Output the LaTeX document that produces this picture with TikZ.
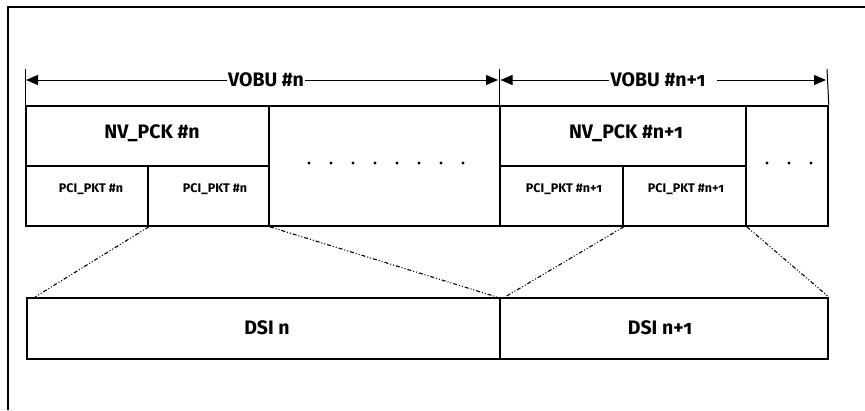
\documentclass[tikz,border=0pt]{standalone}
\usepackage{fontspec}
\setmainfont{Fira Sans}[Numbers=OldStyle]
\usetikzlibrary{arrows.meta,calc}
\begin{document}
\begin{tikzpicture}[x=1pt,y=-1pt,
  box/.style={draw,line width=1.8pt,inner sep=0pt,anchor=north west},
  lbl/.style={font=\bfseries\fontsize{19.5}{22}\selectfont,inner sep=1pt},
  slbl/.style={font=\bfseries\fontsize{12.5}{15}\selectfont,inner sep=1pt},
  arr/.style={line width=1pt,-{Triangle[length=12pt,width=10pt]}},
  tick/.style={line width=1pt},
  link/.style={line width=1.1pt,dash pattern=on 4pt off 2pt on 1pt off 2pt on 1pt off 2pt}
]
\useasboundingbox (0,0) rectangle (865,410);
% frame
\draw[line width=1.3pt] (8,410) -- (8,7) -- (866,7);
% boxes
\node[box,minimum width=243,minimum height=60] (nv1) at (25,105) {};
\node[box,minimum width=122,minimum height=60] (pci1a) at (25,165) {};
\node[box,minimum width=121,minimum height=60] (pci1b) at (147,165) {};
\node[box,minimum width=231,minimum height=120] (dots1) at (268,105) {};
\node[box,minimum width=246,minimum height=60] (nv2) at (499,105) {};
\node[box,minimum width=123,minimum height=60] (pci2a) at (499,165) {};
\node[box,minimum width=123,minimum height=60] (pci2b) at (622,165) {};
\node[box,minimum width=82,minimum height=120] (dots2) at (745,105) {};
\node[box,minimum width=473,minimum height=61] (dsi1) at (26,297) {};
\node[box,minimum width=328,minimum height=61] (dsi2) at (499,297) {};
% texts
\node[lbl] at (152,133) {NV\_PCK \#n};
\node[lbl] at (626,133) {NV\_PCK \#n+1};
\node[slbl] at (91,189) {PCI\_PKT \#n};
\node[slbl] at (215,189) {PCI\_PKT \#n};
\node[slbl] at (564,189) {PCI\_PKT \#n+1};
\node[slbl] at (686,189) {PCI\_PKT \#n+1};
\node[lbl] at (267,328) {DSI n};
\node[lbl] at (660,328) {DSI n+1};
% ticks
\coordinate (ta) at (25,69);
\coordinate (tb) at (499,69);
\coordinate (tc) at (827,69);
\draw[tick] (ta) -- (nv1.north west);
\draw[tick] (tb) -- (nv2.north west);
\draw[tick] (tc) -- (dots2.north east);
% VOBU arrows
\node[lbl,inner sep=1pt] (v1) at (266,80) {VOBU \#n};
\node[lbl,inner sep=1pt] (v2) at (658,80) {VOBU \#n+1};
\draw[arr] (v1.west) -- (26,80);
\draw[arr] (v1.east) -- (498,80);
\draw[arr] (v2.west) -- (500.5,80);
\draw[arr] ($(v2.east)+(10,0)$) -- (826,80);
% dots
\foreach \i in {0,...,7} \fill ({309+22*\i},163) circle (1.7);
\foreach \i in {0,1,2} \fill ({767+22*\i},163) circle (1.7);
% links
\draw[link] (pci1a.south east) -- ($(dsi1.north west)+(9,0)$);
\draw[link] (pci1b.south east) -- ($(dsi1.north east)+(-4,0)$);
\draw[link] (pci2a.south east) -- ($(dsi2.north west)+(6,0)$);
\draw[link] (pci2b.south east) -- (dsi2.north east);
\end{tikzpicture}
\end{document}
